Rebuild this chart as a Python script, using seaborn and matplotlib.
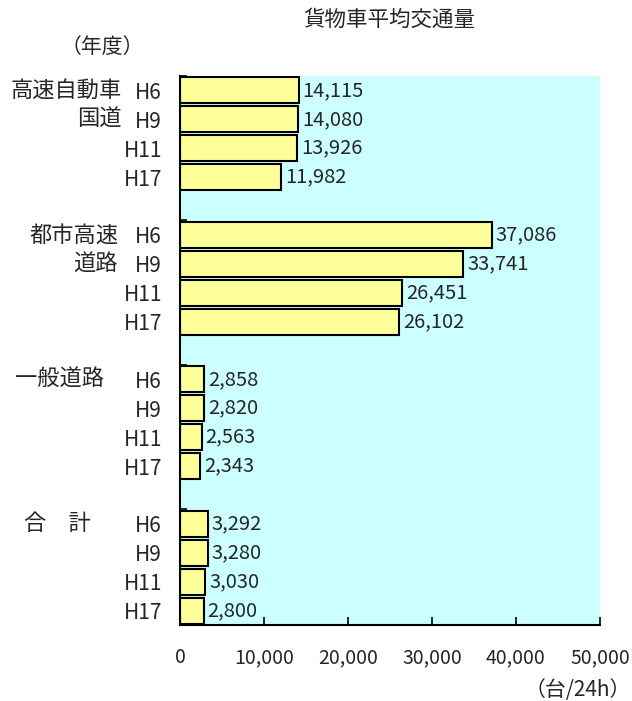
import matplotlib
matplotlib.use("Agg")
import matplotlib.pyplot as plt
import seaborn as sns
import pandas as pd

# ---- data ----
groups = ["高速自動車国道", "都市高速道路", "一般道路", "合計"]
years = ["H6", "H9", "H11", "H17"]
highway = [14115, 14080, 13926, 11982]
urban_expressway = [37086, 33741, 26451, 26102]
general_road = [2858, 2820, 2563, 2343]
total = [3292, 3280, 3030, 2800]
x_ticks = [0, 10000, 20000, 30000, 40000, 50000]
x_tick_labels = ["0", "10,000", "20,000", "30,000", "40,000", "50,000"]
title = "貨物車平均交通量"
unit_label = "（台/24h）"
year_label = "（年度）"

series = [highway, urban_expressway, general_road, total]
rows = []
for g, vals in enumerate(series):
    for i, v in enumerate(vals):
        rows.append({"group": groups[g], "year": years[i], "value": v,
                     "slot": g * 5 + i})
df = pd.DataFrame(rows)

sns.set_theme(style="white")
plt.rcParams["font.family"] = ["Noto Sans CJK JP", "DejaVu Sans"]

W, H = 632, 701
fig = plt.figure(figsize=(W / 100, H / 100), dpi=100)
ax = fig.add_axes([180 / W, 1 - 625 / H, 420 / W, 549 / H])
ax.set_facecolor("#CCFFFF")

sns.barplot(data=df, x="value", y="slot", orient="h", native_scale=True,
            color="#FFFF99", edgecolor="black", linewidth=1.5,
            width=0.9, saturation=1, ax=ax)
for p in ax.patches:
    p.set_facecolor("#FFFF99")

ax.set_xlim(0, 50000)
ax.set_ylim(18.5, -0.5)
ax.set_xlabel("")
ax.set_ylabel("")

ax.set_xticks(x_ticks)
ax.set_xticklabels(x_tick_labels, fontsize=14)
ax.tick_params(axis="x", direction="in", length=6, width=1.2,
               color="black", pad=16, bottom=True)

ax.set_yticks(df["slot"].tolist())
ax.set_yticklabels(df["year"].tolist(), fontsize=15)
ax.tick_params(axis="y", which="major", length=0, pad=13)
ax.set_yticks([-0.5, 4.5, 9.5, 14.5], minor=True)
ax.tick_params(axis="y", which="minor", direction="in", length=5,
               width=1.2, color="black", left=True)

for s in ["top", "right"]:
    ax.spines[s].set_visible(False)
for s in ["left", "bottom"]:
    ax.spines[s].set_color("black")
    ax.spines[s].set_linewidth(1.5)

ax.bar_label(ax.containers[0], labels=[f"{v:,}" for v in df["value"]],
             padding=3, fontsize=14.5)

ytr = ax.get_yaxis_transform()
def px(x):
    return (x - 180) / 420

group_texts = [("高速自動車", 0, 122), ("国道", 1, 122),
               ("都市高速", 5, 118), ("道路", 6, 118),
               ("一般道路", 10, 104), ("合　計", 15, 91)]
for txt, slot, right in group_texts:
    ax.text(px(right), slot, txt, transform=ytr, ha="right", va="center",
            fontsize=16)

fig.text(389 / W, 1 - 20 / H, title, ha="center", va="center", fontsize=15.5)
fig.text(102 / W, 1 - 47 / H, year_label, ha="center", va="center", fontsize=15)
fig.text(631 / W, 1 - 690 / H, unit_label, ha="right", va="center", fontsize=15)

fig.savefig("out.png", dpi=100)
